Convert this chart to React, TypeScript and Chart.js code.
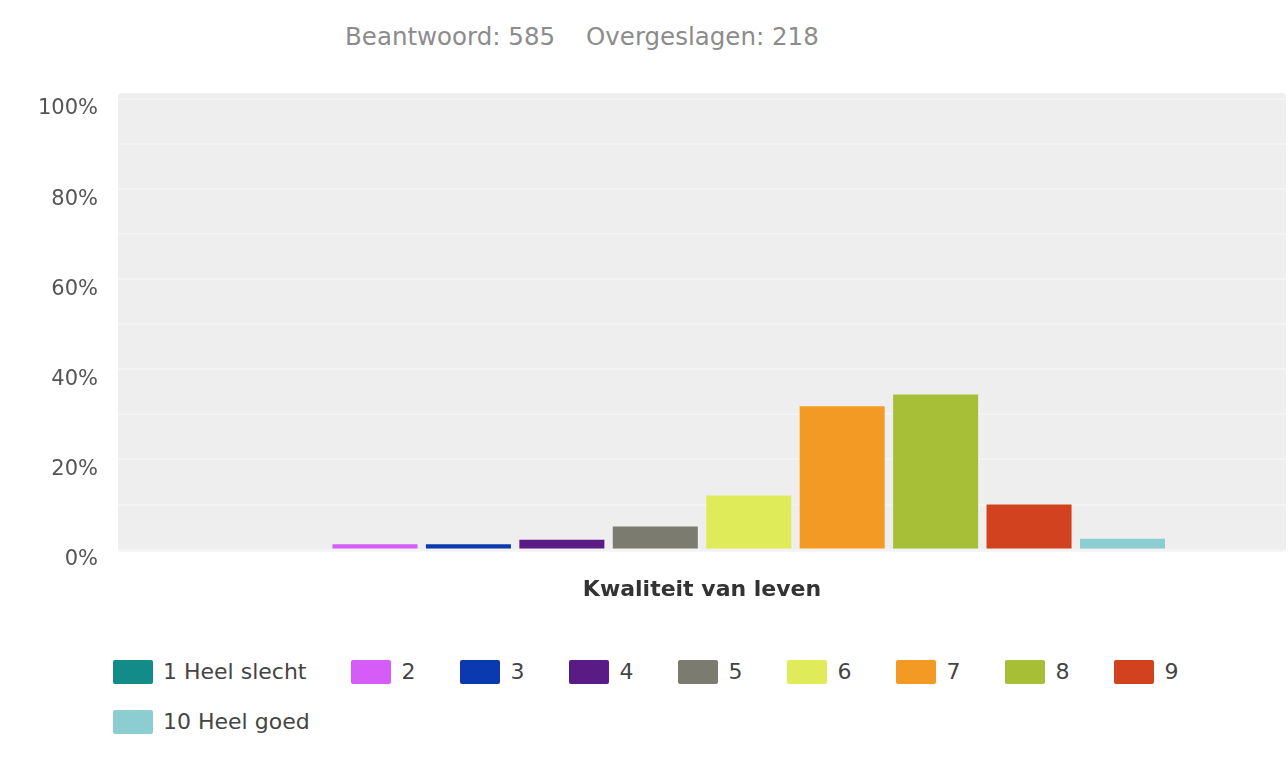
import React, { useEffect, useRef } from "react";
import { Chart, registerables } from "chart.js";

Chart.register(...registerables);

const categories = ["Kwaliteit van leven"];
const seriesLabels = ["1 Heel slecht", "2", "3", "4", "5", "6", "7", "8", "9", "10 Heel goed"];
const seriesValues = [0, 1.2, 1.2, 2.2, 5.1, 12.0, 31.8, 34.4, 10.0, 2.4];
const seriesColors = [
  "#138b88", "#d65cf7", "#0b3ab0", "#5b1b86", "#7c7b6f",
  "#e0eb5a", "#f39a24", "#a6bf37", "#d2421f", "#8ccdd1",
];
const answered = 585;
const skipped = 218;
const yTickValues = [0, 20, 40, 60, 80, 100];

const FONT = "'DejaVu Sans', Verdana, sans-serif";

const panelPlugin = {
  id: "panelBg",
  beforeDraw(chart: any) {
    const { ctx, chartArea } = chart;
    if (!chartArea) return;
    ctx.save();
    ctx.fillStyle = "#eeeeee";
    const x = chartArea.left;
    const y = chartArea.top - 6;
    const w = chartArea.right - chartArea.left;
    const h = chartArea.bottom - chartArea.top + 8;
    ctx.beginPath();
    if ((ctx as any).roundRect) (ctx as any).roundRect(x, y, w, h, 4);
    else ctx.rect(x, y, w, h);
    ctx.fill();
    ctx.restore();
  },
};

export default function App() {
  const canvasRef = useRef<HTMLCanvasElement | null>(null);

  useEffect(() => {
    if (!canvasRef.current) return;
    const chart = new Chart(canvasRef.current, {
      type: "bar",
      data: {
        labels: categories,
        datasets: seriesLabels.map((label, i) => ({
          label,
          data: [seriesValues[i]],
          backgroundColor: seriesColors[i],
          borderWidth: 0,
        })),
      },
      options: {
        animation: false,
        responsive: false,
        maintainAspectRatio: false,
        categoryPercentage: 0.8,
        barPercentage: 0.91,
        layout: { padding: { left: 18, right: 2, top: 99, bottom: 17 } },
        plugins: {
          legend: { display: false },
          title: { display: false },
          tooltip: { enabled: false },
        },
        scales: {
          x: {
            grid: { display: false, drawTicks: false },
            border: { display: false },
            ticks: {
              padding: 27,
              color: "#333333",
              font: { family: FONT, size: 22, weight: "bold" },
            },
          },
          y: {
            min: 0,
            max: 100,
            border: { display: false },
            grid: { color: "#f3f3f3", lineWidth: 2, drawTicks: false },
            ticks: {
              stepSize: 10,
              padding: 20,
              labelOffset: 10,
              color: "#555555",
              font: { family: FONT, size: 21 },
              callback: (v: any) => (yTickValues.includes(Number(v)) ? v + "%" : ""),
            },
          },
        },
      },
      plugins: [panelPlugin],
    } as any);
    return () => chart.destroy();
  }, []);

  return (
    <div style={{ position: "absolute", left: 0, top: 0, width: 1288, height: 761, background: "#fff", fontFamily: FONT }}>
      <div style={{ position: "absolute", left: 345, top: 22, fontSize: 24.5, lineHeight: "30px", color: "#8c8c8c", whiteSpace: "nowrap" }}>
        <span>Beantwoord: {answered}</span>
        <span style={{ marginLeft: 31 }}>Overgeslagen: {skipped}</span>
      </div>
      <canvas ref={canvasRef} width={1288} height={647} style={{ position: "absolute", left: 0, top: 0, width: 1288, height: 647 }} />
      <div style={{ position: "absolute", left: 113, top: 660, width: 1170, display: "flex", flexWrap: "wrap", columnGap: 45, rowGap: 26 }}>
        {seriesLabels.map((label, i) => (
          <div key={label} style={{ display: "flex", alignItems: "center", height: 24 }}>
            <span style={{ display: "inline-block", width: 40, height: 24, background: seriesColors[i], borderRadius: 2, marginRight: 10 }} />
            <span style={{ fontSize: 22, lineHeight: "24px", color: "#444444", whiteSpace: "nowrap" }}>{label}</span>
          </div>
        ))}
      </div>
    </div>
  );
}
